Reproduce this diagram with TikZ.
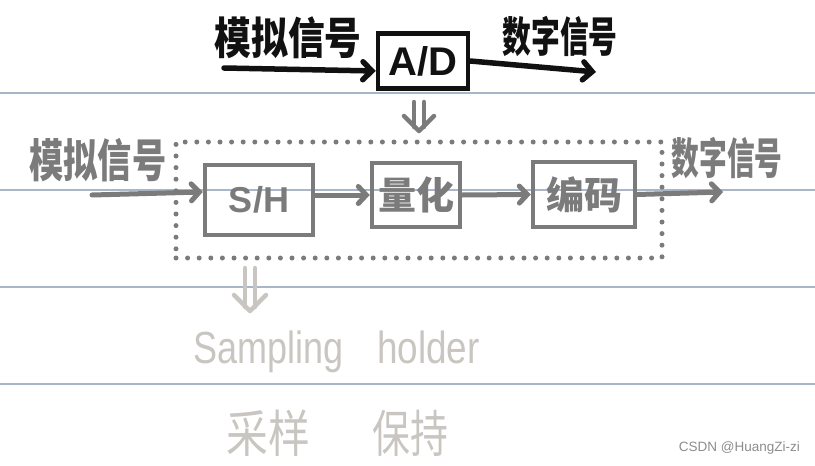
\documentclass[tikz,border=0pt]{standalone}
\usepackage{fontspec}
\setmainfont{Liberation Sans}
\newfontfamily\cjk{Noto Sans CJK SC}
\usetikzlibrary{arrows.meta}
\definecolor{ink}{HTML}{111111}
\definecolor{midgray}{HTML}{7B7B7B}
\definecolor{palegray}{HTML}{C9C6C1}
\definecolor{rulecol}{HTML}{A9B6CA}
\definecolor{wmgray}{HTML}{8C8C8C}
\newcommand{\fs}[1]{\fontsize{#1}{#1}\selectfont}
\begin{document}
\begin{tikzpicture}[x=1pt,y=-1pt,
  rulestyle/.style={draw=rulecol, line width=1.3pt},
  blackbox/.style={draw=ink, line width=4.5pt, inner sep=0pt, text=ink},
  graybox/.style={draw=midgray, line width=4.5pt, inner sep=0pt, text=midgray},
  blackarr/.style={draw=ink, line width=5.5pt, line cap=round, -{Straight Barb[length=9pt,width=18pt,line cap=round]}},
  grayarr/.style={draw=midgray, line width=5pt, line cap=round, -{Straight Barb[length=8pt,width=17pt,line cap=round]}},
  dblstroke/.style={line width=4.5pt, line cap=round, line join=round},
  dotbox/.style={draw=midgray, line width=5pt, line cap=round, dash pattern=on 0pt off 11.6pt, inner sep=0pt},
  lbl/.style={inner sep=0pt}
]
\useasboundingbox (0,0) rectangle (815,466);
% ruled paper
\draw[rulestyle] (0,93) -- (815,93);
\draw[rulestyle] (0,190) -- (815,190);
\draw[rulestyle] (0,287) -- (815,287);
\draw[rulestyle] (0,384) -- (815,384);

% top row
\node[lbl, text=ink] (tin) at (288,38) {\cjk\bfseries\fs{40}\scalebox{0.92}[1.1]{模拟信号}};
\node[blackbox, minimum width=90pt, minimum height=55pt] (ad) at (423,61) {\fs{40}\bfseries A/D};
\node[lbl, text=ink] (tout) at (560,36) {\cjk\bfseries\fs{40}\scalebox{0.72}[1.05]{数字信号}};
\coordinate (ta) at (224,68);
\coordinate (tb) at (596,72);
\draw[blackarr] (ta) -- ([yshift=-10pt]ad.west);
\draw[blackarr] (ad.east) -- (tb);

% dotted group
\node[dotbox, minimum width=486pt, minimum height=116pt] (grp) at (419,200) {};
% double arrow A/D -> group
\coordinate (d1a) at (419,102);
\coordinate (d1b) at (419,131);
\draw[midgray, dblstroke] ([xshift=-5pt]d1a) -- ([xshift=-5pt,yshift=4pt]d1b)
                          ([xshift=5pt]d1a) -- ([xshift=5pt,yshift=4pt]d1b);
\draw[midgray, dblstroke] ([xshift=-15pt,yshift=15pt]d1b) -- (d1b) -- ([xshift=15pt,yshift=15pt]d1b);

% middle row
\node[lbl, text=midgray] (min) at (98,160) {\cjk\bfseries\fs{38}\scalebox{0.9}[1.2]{模拟信号}};
\node[graybox, minimum width=108pt, minimum height=70pt] (sh) at (259,200) {\fs{36}\bfseries S/H};
\node[graybox, minimum width=88pt, minimum height=64pt] (qz) at (416,195) {\cjk\bfseries\fs{38}量化};
\node[graybox, minimum width=102pt, minimum height=65pt] (bm) at (584,194.5) {\cjk\bfseries\fs{38}编码};
\node[lbl, text=midgray] (mout) at (727,158) {\cjk\bfseries\fs{36}\scalebox{0.77}[1.2]{数字信号}};
\coordinate (ma) at (92,195);
\coordinate (mb) at (723,192);
\draw[grayarr] (ma) -- ([yshift=8pt]sh.west);
\draw[grayarr] (sh.east |- qz.west) -- (qz.west);
\draw[grayarr] (qz.east) -- (bm.west);
\draw[grayarr] (bm.east) -- (mb);

% bottom double arrow
\coordinate (d2a) at (250,268);
\coordinate (d2b) at (250,311);
\draw[palegray, dblstroke] ([xshift=-5pt]d2a) -- ([xshift=-5pt,yshift=4pt]d2b)
                           ([xshift=5pt]d2a) -- ([xshift=5pt,yshift=4pt]d2b);
\draw[palegray, dblstroke] ([xshift=-16pt,yshift=16pt]d2b) -- (d2b) -- ([xshift=16pt,yshift=16pt]d2b);

\node[lbl, anchor=base west, text=palegray] (samp) at (193,363) {\fs{45}\scalebox{0.8}[1]{Sampling}};
\node[lbl, anchor=base west, text=palegray] (hold) at (377,363) {\fs{45}\scalebox{0.82}[1]{holder}};
\node[lbl, text=palegray] (cai) at (268,433) {\cjk\fs{44}\scalebox{0.95}[1.15]{采样}};
\node[lbl, text=palegray] (bao) at (410,433) {\cjk\fs{44}\scalebox{0.86}[1.15]{保持}};

% watermark
\node[lbl, anchor=east, text=wmgray] (wm) at (800,448) {\fs{13.5}CSDN @HuangZi-zi};
\end{tikzpicture}
\end{document}
